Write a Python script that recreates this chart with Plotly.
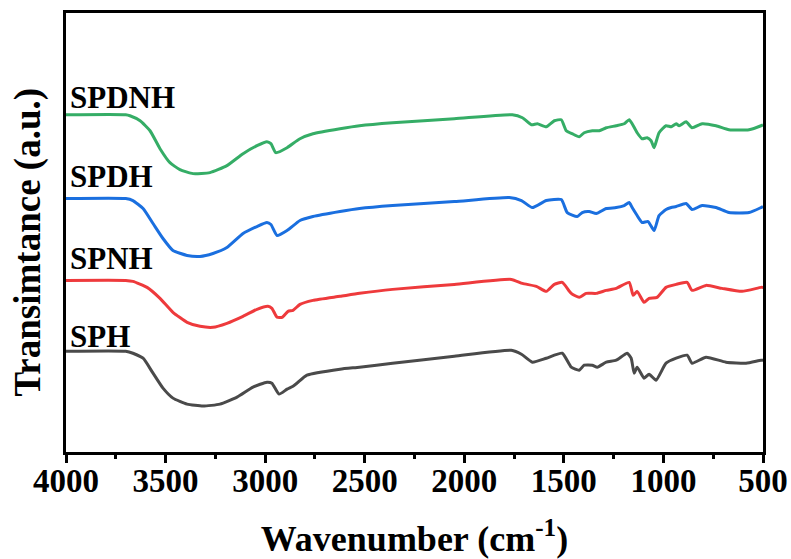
import plotly.graph_objects as go

# Wavenumbers (cm-1) and transmittance (a.u., vertically offset curves)
spdnh_wn = [4000, 3700, 3679, 3628, 3578, 3528, 3478, 3428, 3362, 3277, 3192, 3111, 3041, 2991, 2971, 2946, 2890,
            2825, 2760, 2624, 2526, 2360, 2050,
            1759, 1708, 1663, 1633, 1588, 1548, 1513, 1488, 1458, 1423, 1398, 1357, 1322, 1287, 1237, 1197, 1172, 1157,
            1132, 1107, 1082, 1062, 1047, 1022, 987, 961, 936, 921, 886, 856, 806, 736, 671, 570, 510, 500]
spdnh_t = [310, 310, 309, 304, 294, 276, 262, 255, 251, 252, 259, 271, 279, 283, 281, 272, 277,
           286, 291, 296, 299, 302, 306,
           310, 307, 300, 301, 298, 304, 305, 294, 291, 288, 292, 294, 294, 297, 299, 301, 305, 301,
           292, 286, 287, 284, 277, 292, 299, 298, 301, 299, 303, 297, 301, 299, 295, 295, 299, 300]

spdh_wn = [4000, 3700, 3664, 3613, 3563, 3513, 3463, 3392, 3327, 3262, 3192, 3111, 3041, 2991, 2971, 2940, 2890,
           2825, 2760, 2624, 2526, 2360, 2050,
           1774, 1713, 1658, 1588, 1513, 1483, 1433, 1408, 1373, 1337, 1287, 1237, 1197, 1172, 1157, 1132, 1107, 1077,
           1047, 1022, 987, 961, 936, 886, 856, 806, 736, 671, 570, 510, 500]
spdh_t = [226, 226, 224, 216, 201, 186, 174, 169, 168, 171, 177, 191, 198, 202, 200, 189, 194,
          204, 208, 213, 216, 219, 223,
          227, 224, 217, 224, 225, 212, 208, 212, 213, 211, 216, 217, 219, 222, 217, 209, 202, 203,
          194, 209, 215, 217, 218, 221, 215, 219, 217, 212, 212, 217, 218]

spnh_wn = [4000, 3700, 3664, 3593, 3528, 3463, 3392, 3327, 3262, 3192, 3111, 3041, 2986, 2966, 2940, 2915, 2885,
           2860, 2825, 2760, 2624, 2526, 2360, 2050,
           1764, 1708, 1638, 1588, 1548, 1508, 1463, 1423, 1388, 1337, 1287, 1237, 1172, 1152, 1132, 1097, 1072, 1032,
           987, 936, 881, 856, 786, 706, 605, 510, 500]
spnh_t = [144, 144, 143, 137, 126, 112, 102, 98, 97, 101, 108, 115, 118, 116, 107, 107, 113,
          114, 120, 124, 128, 131, 135, 140,
          145, 141, 138, 133, 140, 142, 131, 127, 131, 131, 134, 136, 142, 129, 133, 122, 126, 127,
          137, 140, 142, 134, 139, 136, 133, 137, 137]

sph_wn = [4000, 3700, 3664, 3613, 3563, 3513, 3463, 3392, 3312, 3227, 3141, 3061, 2991, 2966, 2930, 2890, 2860,
          2840, 2790, 2624, 2526, 2360, 2050,
          1764, 1713, 1658, 1588, 1508, 1463, 1423, 1398, 1357, 1332, 1287, 1237, 1182, 1162, 1147, 1132, 1097, 1072,
          1037, 987, 936, 881, 856, 786, 686, 585, 510, 500]
sph_t = [73, 73, 71, 66, 51, 36, 26, 20, 18, 20, 27, 37, 42, 41, 30, 35, 38,
         41, 49, 55, 57, 61, 68,
         74, 70, 62, 66, 71, 57, 54, 59, 59, 57, 62, 64, 71, 66, 51, 57, 46, 50,
         44, 61, 66, 69, 61, 67, 62, 61, 64, 64]

names = ["SPH", "SPNH", "SPDH", "SPDNH"]
colors = ["#4a4a4a", "#ee3a3c", "#1a6fdf", "#35ad66"]
label_y = [68, 146, 229, 308]

series = [(sph_wn, sph_t), (spnh_wn, spnh_t), (spdh_wn, spdh_t), (spdnh_wn, spdnh_t)]

FONT = "Liberation Serif"

fig = go.Figure()
for (wn, t), name, col in zip(series, names, colors):
    fig.add_trace(go.Scatter(x=wn, y=t, mode="lines", name=name,
                             line=dict(color=col, width=3, shape="spline", smoothing=0.5),
                             showlegend=False))

for name, ly in zip(names, label_y):
    fig.add_annotation(x=3988, y=ly, text=name, showarrow=False, xanchor="left", yanchor="bottom",
                       font=dict(family=FONT, size=31, color="black", weight="bold"))

# y-axis title placed as a rotated annotation
fig.add_annotation(xref="paper", yref="paper", x=-0.0545, y=0.477, text="Transimtance (a.u.)",
                   textangle=-90, showarrow=False, xanchor="center", yanchor="middle",
                   font=dict(family=FONT, size=37, color="black", weight="bold"))

fig.update_layout(
    width=791, height=559,
    margin=dict(l=66, r=28, t=13, b=107),
    paper_bgcolor="white", plot_bgcolor="white",
    font=dict(family=FONT, color="black"),
)
fig.update_xaxes(
    range=[4000, 500], autorange=False, automargin=False,
    tickvals=[4000, 3500, 3000, 2500, 2000, 1500, 1000, 500],
    ticks="outside", ticklen=8, tickwidth=3, tickcolor="black",
    minor=dict(dtick=250, tick0=0, ticks="outside", ticklen=4, tickwidth=3, tickcolor="black"),
    showline=True, linewidth=3, linecolor="black", mirror=True, showgrid=False, zeroline=False,
    ticklabelstandoff=-11,
    tickfont=dict(family=FONT, size=33, color="black", weight="bold"),
    title=dict(text="Wavenumber (cm<sup>-1</sup>)", standoff=41,
               font=dict(family=FONT, size=36, color="black", weight="bold")),
)
fig.update_yaxes(
    range=[-28, 412], autorange=False, automargin=False,
    showticklabels=False, ticks="",
    showline=True, linewidth=3, linecolor="black", mirror=True, showgrid=False, zeroline=False,
)

fig.write_html("out.html")
